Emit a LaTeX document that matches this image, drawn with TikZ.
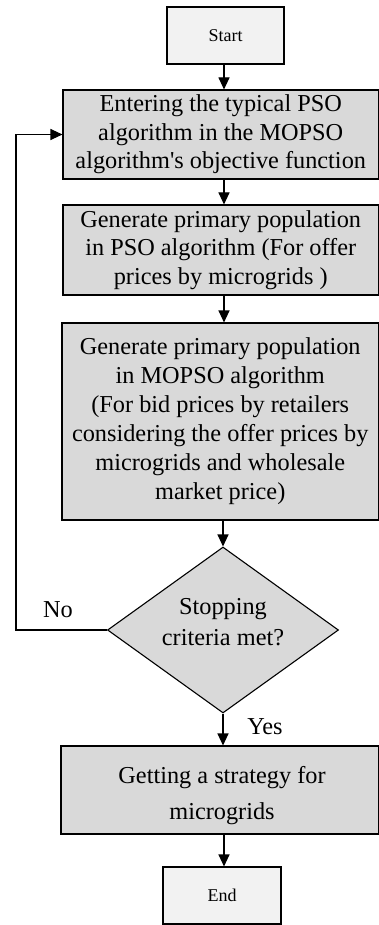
\documentclass[tikz,border=0pt]{standalone}
\usepackage{fontspec}
\setmainfont{Liberation Serif}
\newfontfamily\rawserif{Liberation Serif}
\usetikzlibrary{shapes.geometric,arrows.meta}
\begin{document}
\begin{tikzpicture}[x=1pt,y=-1pt,
  base/.style={draw=black,line width=1.1pt,inner sep=0pt,align=center,
    font=\fontsize{24.3}{28.5}\selectfont},
  procbox/.style={base,rectangle,fill=boxgray},
  termbox/.style={base,rectangle,fill=termgray,minimum width=117pt,minimum height=57pt,
    font=\fontsize{18}{21}\selectfont},
  decision/.style={base,diamond,fill=boxgray,aspect=1.39,minimum width=231pt,minimum height=166pt},
  arr/.style={line width=1.1pt,-{Triangle[width=11pt,length=12pt]}},
  lbl/.style={font=\fontsize{24.3}{28.5}\selectfont,inner sep=0pt,align=center}
]
\definecolor{boxgray}{HTML}{D9D9D9}
\definecolor{termgray}{HTML}{F2F2F2}
\useasboundingbox (0,0) rectangle (379,925);
\coordinate (spine) at (224,0);
\coordinate (lp) at (16,0);

\node[termbox] (start) at (225.5,35.5) {Start};
\node[procbox,minimum width=315.5pt,minimum height=89pt] (b1) at (220.75,134.5)
  {Entering the typical PSO\\algorithm in the MOPSO\\algorithm{\rawserif'}s objective function};
\node[procbox,minimum width=315.5pt,minimum height=90pt] (b2) at (220.75,250)
  {Generate primary population\\in PSO algorithm (For offer\\prices by microgrids )};
\node[procbox,minimum width=316.5pt,minimum height=197pt,
  font=\fontsize{24.3}{29}\selectfont] (b3) at (220.25,421.5)
  {Generate primary population\\in MOPSO algorithm\\ (For bid prices by retailers\\considering the offer prices by\\microgrids and wholesale\\market price)};
\node[decision] (dia) at (223,630) {};
\node[lbl,font=\fontsize{24.3}{31}\selectfont] (diat) at (223,622) {Stopping\\criteria met?};
\node[procbox,minimum width=317.5pt,minimum height=88pt] (b4) at (219.75,790) {};
\node[lbl,font=\fontsize{24.3}{36}\selectfont] (b4t) at (222,796) {Getting a strategy for\\microgrids};
\node[termbox,minimum width=118pt] (end) at (222,895.5) {End};

\draw[arr] (start.south -| spine) -- (b1.north -| spine);
\draw[arr] (b1.south -| spine) -- (b2.north -| spine);
\draw[arr] (b2.south -| spine) -- (b3.north -| spine);
\draw[arr] (b3.south -| dia.north) -- (dia.north);
\draw[arr] (dia.south) -- (b4.north -| dia.south);
\draw[arr] (b4.south -| spine) -- (end.north -| spine);
\draw[arr] (dia.west) -- (dia.west -| lp) |- (b1.west);

\node[lbl] (no) at (58,610) {No};
\node[lbl] (yes) at (265,727) {Yes};
\end{tikzpicture}
\end{document}
